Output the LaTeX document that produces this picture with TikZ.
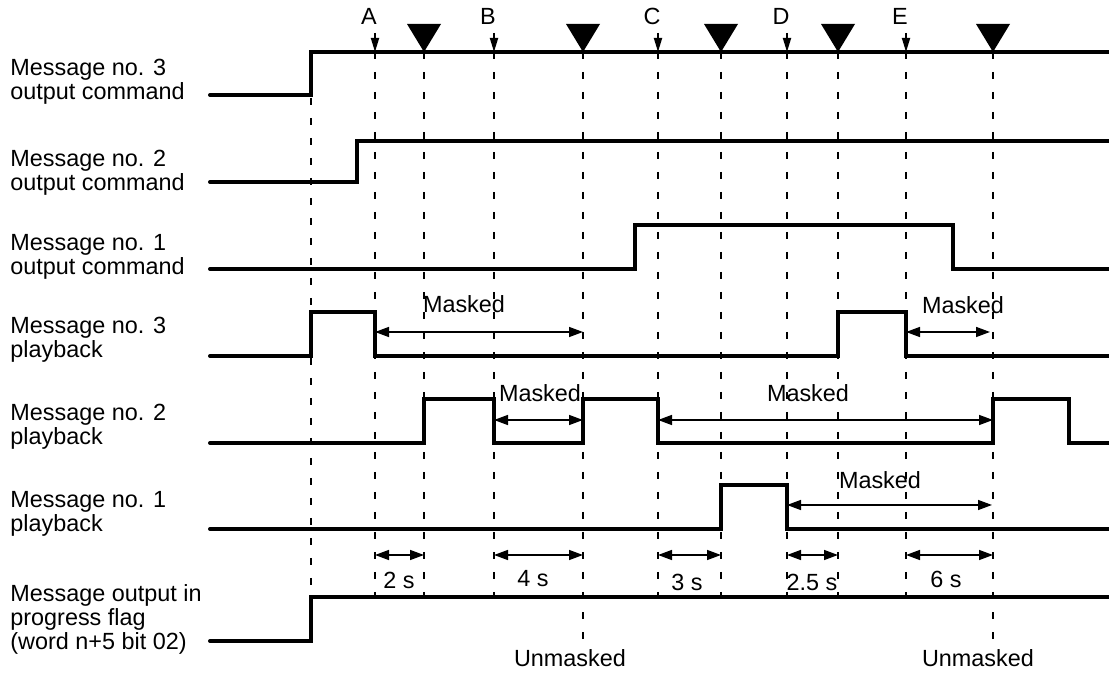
\documentclass[tikz,border=0pt]{standalone}
\usepackage{fontspec}
\setmainfont{Liberation Sans}
\usetikzlibrary{arrows.meta}
\begin{document}
\begin{tikzpicture}[x=0.5pt,y=-0.5pt]
	\tikzstyle{sig}=[line width=2pt,line cap=round,line join=miter];
	\tikzstyle{guide}=[line width=0.9pt,dash pattern=on 3.5pt off 6.5pt];
	\tikzstyle{span}=[line width=0.75pt,{Triangle[length=7pt,width=5pt]}-{Triangle[length=7pt,width=5pt]}];
	\tikzstyle{txt}=[inner sep=0pt,font=\fontsize{11.7}{12}\selectfont];
	\tikzstyle{rowlbl}=[txt,anchor=north west,align=left];
	\useasboundingbox (0,0) rectangle (1109,673);
	% dashed time lines
	\draw[guide] (311,98) -- (311,597);
	\foreach \x in {375,424,494,658,721,787,838,906} \draw[guide] (\x,52) -- (\x,597);
	\foreach \x in {583,993} \draw[guide] (\x,52) -- (\x,640);
	% markers on top
	\foreach \x in {424,583,721,838,993} \fill (\x-17,24) -- (\x+17,24) -- (\x,52) -- cycle;
	\foreach \x/\t in {375/A,494/B,658/C,787/D,906/E} {
		\node[txt] (ev\t) at (\x-6,16) {\t};
		\draw[line width=0.9pt,-{Triangle[length=7pt,width=4pt]}] (\x,33) -- (\x,52);
	}
	% row labels
	\node[rowlbl] (cmd3) at (10,59)  {Message no. 3\\output command};
	\node[rowlbl] (cmd2) at (10,150) {Message no. 2\\output command};
	\node[rowlbl] (cmd1) at (10,234) {Message no. 1\\output command};
	\node[rowlbl] (pb3)  at (10,317) {Message no. 3\\playback};
	\node[rowlbl] (pb2)  at (10,404) {Message no. 2\\playback};
	\node[rowlbl] (pb1)  at (10,491) {Message no. 1\\playback};
	\node[rowlbl] (flag) at (10,584) {Message output in\\progress flag\\(word n+5 bit 02)};
	% signals
	\draw[sig] (210,95) -- (311,95) -- (311,52) -- (1109,52);
	\draw[sig] (210,182) -- (357,182) -- (357,141) -- (1109,141);
	\draw[sig] (210,269) -- (635,269) -- (635,225) -- (953,225) -- (953,269) -- (1109,269);
	\draw[sig] (210,356) -- (311,356) -- (311,312) -- (375,312) -- (375,356) -- (838,356)
		-- (838,312) -- (906,312) -- (906,356) -- (1109,356);
	\draw[sig] (210,443) -- (424,443) -- (424,399) -- (494,399) -- (494,443) -- (583,443)
		-- (583,399) -- (658,399) -- (658,443) -- (993,443) -- (993,399) -- (1069,399)
		-- (1069,443) -- (1109,443);
	\draw[sig] (210,529) -- (721,529) -- (721,485) -- (787,485) -- (787,529) -- (1109,529);
	\draw[sig] (210,641) -- (311,641) -- (311,597) -- (1109,597);
	% masked intervals
	\draw[span] (375,332) -- (583,332);
	\node[txt] (mk1) at (464,304) {Masked};
	\draw[span] (906,332) -- (990,332);
	\node[txt] (mk2) at (963,305) {Masked};
	\draw[span] (494,420) -- (583,420);
	\node[txt] (mk3) at (540,393) {Masked};
	\draw[span] (658,420) -- (993,420);
	\node[txt] (mk4) at (808,393) {Masked};
	\draw[span] (787,505) -- (992,505);
	\node[txt] (mk5) at (880,480) {Masked};
	% durations
	\draw[span] (375,555) -- (424,555);
	\node[txt] (d1) at (399,580) {2 s};
	\draw[span] (494,555) -- (583,555);
	\node[txt] (d2) at (533,579) {4 s};
	\draw[span] (658,555) -- (721,555);
	\node[txt] (d3) at (687,582) {3 s};
	\draw[span] (787,555) -- (838,555);
	\node[txt] (d4) at (812,582) {2.5 s};
	\draw[span] (906,555) -- (993,555);
	\node[txt] (d5) at (946,579) {6 s};
	\node[txt] (um1) at (570,658) {Unmasked};
	\node[txt] (um2) at (978,658) {Unmasked};
\end{tikzpicture}
\end{document}
